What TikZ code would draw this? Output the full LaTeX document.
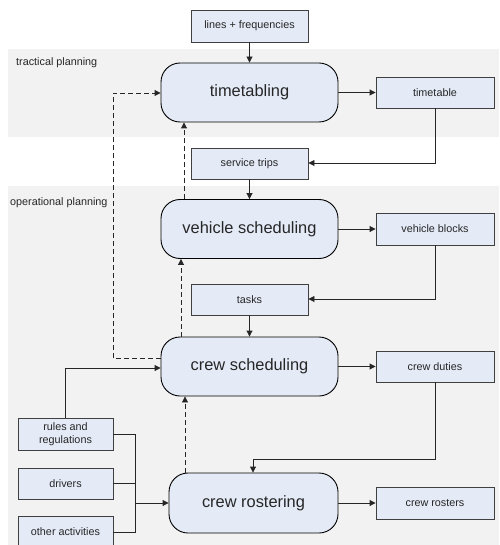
\documentclass[tikz,border=0pt]{standalone}
\usepackage{fontspec}
\setmainfont{Liberation Sans}
\usetikzlibrary{arrows.meta}
\definecolor{band}{HTML}{F2F2F2}
\definecolor{boxfill}{HTML}{E4EBF7}
\definecolor{boxline}{HTML}{404040}
\definecolor{txt}{HTML}{262626}
\tikzset{
  data/.style={draw=boxline, fill=boxfill, line width=0.9pt, inner sep=0pt,
    minimum width=117pt, minimum height=31pt, font=\fontsize{10.8}{12.5}\selectfont,
    text=txt, align=center},
  proc/.style={draw=black, fill=boxfill, line width=0.9pt, inner sep=0pt,
    rounded corners=19pt, minimum width=177pt, minimum height=59pt,
    font=\fontsize{16.4}{19}\selectfont, text=txt},
  conn/.style={line width=0.9pt, draw=black!85, -{Triangle[length=6pt,width=6pt]}},
  plain/.style={line width=0.9pt, draw=black!85},
  dconn/.style={line width=0.9pt, draw=black!85, dash pattern=on 5pt off 3pt,
    -{Triangle[length=6pt,width=6pt]}},
  lbl/.style={anchor=west, inner sep=0pt, font=\fontsize{10.8}{12.5}\selectfont, text=txt}
}
\begin{document}
\begin{tikzpicture}[x=1pt, y=-1pt]
\useasboundingbox (0,0) rectangle (499,545);
\begin{scope}
\clip (0,0) rectangle (499,545);
% bands
\fill[band] (8,49) rectangle (499,137);
\fill[band] (8,186) rectangle (499,548);
\node[lbl] (tac) at (16,63) {tractical planning};
\node[lbl] (ope) at (10,203) {operational planning};
% process nodes
\node[proc] (tt) at (249.5,92.5) {timetabling};
\node[proc] (vs) at (249.5,229) {vehicle scheduling};
\node[proc] (cs) at (249.5,366.5) {crew scheduling};
\node[proc, minimum width=169pt, minimum height=60pt] (cr) at (253.5,503) {crew rostering};
% data nodes
\node[data, minimum height=32pt] (lf) at (249.5,26) {lines + frequencies};
\node[data, minimum width=118pt] (ttb) at (435,92.5) {timetable};
\node[data] (st) at (249.5,163.5) {service trips};
\node[data, minimum width=118pt, minimum height=32pt] (vb) at (435,229) {vehicle blocks};
\node[data] (tk) at (249.5,299.5) {tasks};
\node[data, minimum width=118pt] (cd) at (435,366.5) {crew duties};
\node[data, minimum width=118pt, minimum height=32pt] (crs) at (435,503) {crew rosters};
\node[data, minimum width=95pt, minimum height=32pt] (rr) at (65.5,434) {rules and\\regulations};
\node[data, minimum width=95pt] (dr) at (65.5,483.5) {drivers};
\node[data, minimum width=95pt] (oa) at (65.5,531.5) {other activities};
% helper coordinates
\coordinate (d1) at (181,0);
\coordinate (d2) at (184,0);
\coordinate (d3) at (185,0);
\coordinate (dl) at (113,358);
\coordinate (dt) at (113,93);
\coordinate (sr) at (66,368);
\coordinate (m1) at (135,434);
\coordinate (m2) at (135,532);
\coordinate (mm) at (135,503);
\coordinate (b1) at (435,163);
\coordinate (b2) at (435,299);
\coordinate (b3) at (435,459);
\coordinate (b4) at (253,459);
% main flow
\draw[conn] (lf) -- (tt);
\draw[conn] (tt) -- (ttb);
\draw[conn] (ttb.south -| b1) -- (b1) -- (b1 -| st.east);
\draw[conn] (st) -- (vs);
\draw[conn] (vs) -- (vb);
\draw[conn] (vb.south -| b2) -- (b2) -- (b2 -| tk.east);
\draw[conn] (tk) -- (cs);
\draw[conn] (cs) -- (cd);
\draw[conn] (cd.south -| b3) -- (b3) -- (b4) -- (b4 |- cr.north);
\draw[conn] (cr) -- (crs);
% feedback (dashed)
\draw[dconn] (cs.north -| d1) -- (vs.south -| d1);
\draw[dconn] (vs.north -| d2) -- (tt.south -| d2);
\draw[dconn] (cr.north -| d3) -- (cs.south -| d3);
\draw[dconn] (cs.west |- dl) -- (dl) -- (dt) -- (dt -| tt.west);
% rules to crew scheduling
\draw[conn] (rr.north |- rr.north) -- (rr.north |- sr) -- (sr -| cs.west);
% inputs to crew rostering
\draw[plain] (rr.east |- m1) -- (m1) -- (m2) -- (m2 -| oa.east);
\draw[plain] (dr.east) -- (dr.east -| m1);
\draw[conn] (mm) -- (mm -| cr.west);
\end{scope}
\end{tikzpicture}
\end{document}
